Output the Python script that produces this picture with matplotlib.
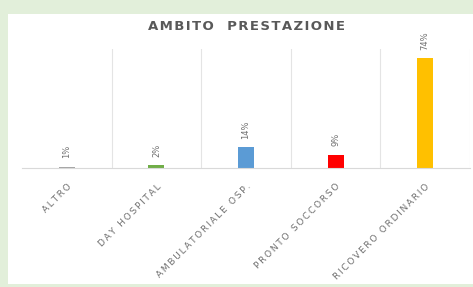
import matplotlib
matplotlib.use("Agg")
import matplotlib.pyplot as plt

categories = ["ALTRO", "DAY HOSPITAL", "AMBULATORIALE OSP.", "PRONTO SOCCORSO", "RICOVERO ORDINARIO"]
values = [1, 2, 14, 9, 74]
labels = ["1%", "2%", "14%", "9%", "74%"]
colors = ["#a5a5a5", "#70ad47", "#5b9bd5", "#ff0000", "#ffc000"]
title = "AMBITO  PRESTAZIONE"


def spaced(s, gap="\u2009"):
    # letter-spaced text, like the original chart's font
    return gap.join(s)


W, H = 473, 287
fig = plt.figure(figsize=(W / 100, H / 100), dpi=100, facecolor="#e2efda")

# white chart panel inside the green frame
bg = fig.add_axes([8 / W, 3 / H, 1 - 8 / W, 1 - 17 / H], zorder=-1)
bg.set_facecolor("white")
bg.set_xticks([]); bg.set_yticks([])
for s in bg.spines.values():
    s.set_visible(False)

ax = fig.add_axes([22 / W, 119 / H, 448 / W, 119 / H])
ax.set_facecolor("none")
x = range(len(values))
ax.bar(x, values, width=0.18, color=colors, zorder=2)
ax.set_xlim(-0.5, len(values) - 0.5)
ax.set_ylim(0, 80)

for i in range(len(values)):
    ax.axvline(i + 0.5, color="#e4e4e4", lw=0.8, zorder=1)
for i, (v, lab) in enumerate(zip(values, labels)):
    ax.annotate(lab, (i, v), xytext=(0, 6), textcoords="offset points",
                rotation=90, ha="center", va="bottom", fontsize=6, color="#6f6f6f")

for s in ["top", "right", "left"]:
    ax.spines[s].set_visible(False)
ax.spines["bottom"].set_color("#d9d9d9")
ax.spines["bottom"].set_linewidth(0.8)
ax.set_yticks([])
ax.set_xticks(list(x))
ax.set_xticklabels([spaced(c) for c in categories], rotation=45, ha="right",
                   rotation_mode="anchor", fontsize=6.5, color="#6f6f6f")
ax.tick_params(axis="x", length=0, pad=10)

fig.text(246 / W, 1 - 26 / H, spaced(title, "\u200a"), ha="center", va="center",
         fontsize=9.5, fontweight="bold", color="#595959")

fig.savefig("out.png", dpi=100, facecolor=fig.get_facecolor())
